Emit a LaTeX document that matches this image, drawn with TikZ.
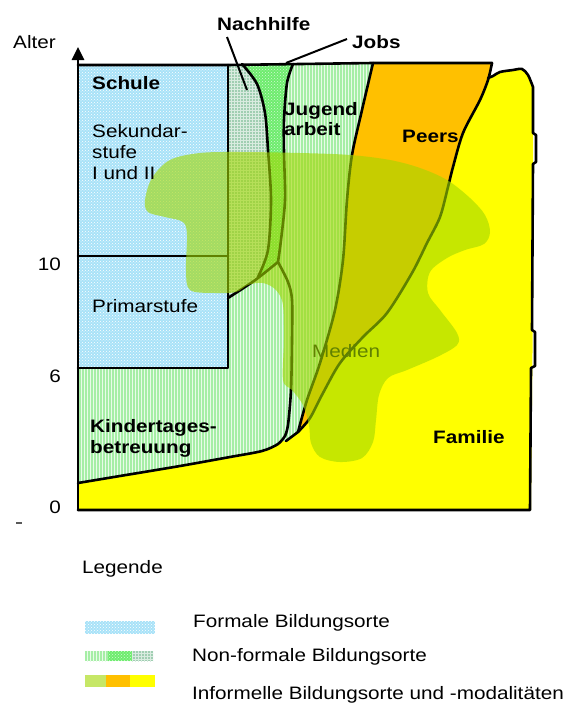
\documentclass[tikz,border=0pt]{standalone}
\usepackage{fontspec}
\setmainfont{Liberation Sans}[FakeStretch=1.15]
\usetikzlibrary{patterns,arrows.meta}
\definecolor{formblue}{RGB}{168,226,248}
\definecolor{kitag}{RGB}{166,238,166}
\definecolor{jobsg}{RGB}{110,236,110}
\definecolor{nachg}{RGB}{160,206,178}
\definecolor{peersc}{RGB}{255,192,0}
\definecolor{famc}{RGB}{255,255,0}
\definecolor{medc}{RGB}{160,215,0}
\begin{document}
\begin{tikzpicture}[x=1pt,y=-1pt,
  bd/.style={line width=2.6pt, line join=round, line cap=round},
  ptr/.style={line width=2pt},
  lbl/.style={inner sep=0pt, anchor=base west, font=\fontsize{18}{21}\selectfont},
  blbl/.style={inner sep=0pt, anchor=base west, font=\fontsize{18}{21}\selectfont\bfseries},
  tick/.style={inner sep=0pt, anchor=base east, font=\fontsize{18}{21}\selectfont},
  formal/.style={fill=formblue, postaction={pattern=crosshatch dots, pattern color=white}},
  kitafill/.style={fill=kitag, postaction={pattern=vertical lines, pattern color=white!75!kitag}},
  jobsfill/.style={fill=jobsg, postaction={pattern=crosshatch dots, pattern color=white!70!jobsg}},
  nachfill/.style={fill=nachg, postaction={pattern=grid, pattern color=white!60!nachg}},
  peersfill/.style={fill=peersc},
  famfill/.style={fill=famc},
  medfill/.style={fill=medc, fill opacity=0.6}
]
\useasboundingbox (0,0) rectangle (571,704);

% ---- fills ----
\fill[famfill] (78,510) -- (78,470) -- (286,440) -- (300,420) -- (400,200) -- (470,75) -- (488,78)
  -- plot[smooth] coordinates {(488,78)(493,76)(500,72)(513,70)(522,69)(528,75)(533,87)}
  -- (533,300) -- (531,510) -- cycle;
\fill[peersfill] (300,63)
  -- plot[smooth] coordinates {(492,63)(488,80)(480,100)(463,133)(453,167)(448,187)(440,217)(427,243)(412,273)(387,313)(363,337)(340,363)(323,393)(310,418)(298,432)}
  -- (286,441) -- cycle;
\fill[kitafill] (270,64)
  -- plot[smooth] coordinates {(373,63)(362,110)(352,155)(347,200)(343,260)(335,310)(320,363)(307,400)(298,432)}
  -- (286,441) -- (270,441) -- cycle;
\fill[jobsfill] (238,64)
  -- plot[smooth] coordinates {(293,64)(287,83)(284,120)(284,153)(285,200)(281,240)(278,262)}
  -- (262,292) -- (240,292) -- cycle;
\fill[nachfill] (228,64)
  -- plot[smooth] coordinates {(242,64)(257,84)(265,113)(268,150)(271,200)(268,250)(258,277)}
  -- (250,300) -- (228,300) -- cycle;
\fill[kitafill] (78,368) -- (228,368) -- (228,298)
  -- plot[smooth] coordinates {(228,298)(245,287)(258,278)(278,262)}
  -- plot[smooth] coordinates {(278,262)(288,282)(292,300)(292,340)(291,390)(288,425)(285,436)}
  -- plot[smooth] coordinates {(285,436)(278,444)(262,451)(230,457)(180,466)(120,476)(78,483)}
  -- cycle;
\fill[formal] (78,65) rectangle (228,368);

% ---- boundaries ----
\draw[bd] (78,65) -- (228,65) -- (373,63) -- (492,63);
\draw[bd] (228,65) -- (228,368) -- (78,368);
\draw[bd] (78,256) -- (228,256);
\draw[bd] plot[smooth] coordinates {(242,64)(257,84)(265,113)(268,150)(271,200)(268,250)(258,277)};
\draw[bd] plot[smooth] coordinates {(293,64)(287,83)(284,120)(284,153)(285,200)(281,240)(278,262)};
\draw[bd] plot[smooth] coordinates {(278,262)(288,282)(292,300)(292,340)(291,390)(288,425)(285,436)};
\draw[bd] plot[smooth] coordinates {(228,298)(245,287)(258,278)(278,262)};
\draw[bd] plot[smooth] coordinates {(285,436)(278,444)(262,451)(230,457)(180,466)(120,476)(78,483)};
\draw[bd] plot[smooth] coordinates {(373,63)(362,110)(352,155)(347,200)(343,260)(335,310)(320,363)(307,400)(298,432)};
\draw[bd] plot[smooth] coordinates {(492,63)(488,80)(480,100)(463,133)(453,167)(448,187)(440,217)(427,243)(412,273)(387,313)(363,337)(340,363)(323,393)(310,418)(298,432)};
\draw[bd] (298,432) -- (286,441);
\draw[bd] plot[smooth] coordinates {(488,78)(493,76)(500,72)(513,70)(522,69)(528,75)(533,87)}
  -- (533,133) -- (536,135) -- (536,162) -- (533,164) -- (532,330) -- (535,332) -- (535,366) -- (531,368) -- (530,510) -- (78,510);
\draw[bd, -{Triangle[length=13pt,width=12pt]}] (78,510) -- (78,47);

% ---- text under the media cloud ----
\node[lbl] (medien) at (312,357) {Medien};

% ---- media cloud ----
\fill[medfill] plot[smooth cycle, tension=0.55] coordinates {
 (200,153) (240,152) (300,153) (350,155) (390,160) (420,168) (447,180) (470,198) (485,215) (490,232)
 (484,244) (465,250) (447,258) (430,272) (428,293) (440,310) (457,333) (457,345) (437,357) (407,370)
 (388,378) (379,395) (376,420) (373,442) (362,458) (340,462) (320,457) (311,443) (309,425) (303,405)
 (292,390) (283,380) (284,340) (283,305) (276,290) (263,283) (248,285) (236,292) (215,293) (190,290)
 (186,270) (187,235) (183,222) (165,217) (148,212) (145,200) (152,178) (170,160)};

% ---- labels ----
\node[lbl] (alter) at (13,48) {Alter};
\node[blbl] (nachlbl) at (217,30) {Nachhilfe};
\node[blbl] (jobslbl) at (352,48) {Jobs};
\coordinate (nachA) at (227,37);
\coordinate (nachB) at (247,90);
\coordinate (jobsA) at (347,39);
\coordinate (jobsB) at (286,63);
\draw[ptr] (nachA) -- (nachB);
\draw[ptr] (jobsA) -- (jobsB);
\node[blbl] (schule) at (92,89) {Schule};
\node[lbl] (sek1) at (92,137) {Sekundar-};
\node[lbl] (sek2) at (92,158) {stufe};
\node[lbl] (sek3) at (92,179) {I und II};
\node[blbl] (jug1) at (284,115) {Jugend};
\node[blbl] (jug2) at (284,135) {arbeit};
\node[blbl] (peers) at (402,142) {Peers};
\node[lbl] (prim) at (92,312) {Primarstufe};
\node[blbl] (kita1) at (90,432) {Kindertages-};
\node[blbl] (kita2) at (90,453) {betreuung};
\node[blbl] (fam) at (433,443) {Familie};
\node[tick] (t10) at (61,270) {10};
\node[tick] (t6) at (61,382) {6};
\node[tick] (t0) at (61,513) {0};
\draw[line width=1.5pt, gray!70!black] (16,523) -- (22,523);

% ---- legend ----
\node[lbl] (leg) at (82,573) {Legende};
\fill[formal] (85,621) rectangle (155,634);
\node[lbl] (lf) at (193,627) {Formale Bildungsorte};
\fill[kitafill] (85,651) rectangle (108,661);
\fill[jobsfill] (108,651) rectangle (132,661);
\fill[nachfill] (132,651) rectangle (153,661);
\node[lbl] (ln) at (192,661) {Non-formale Bildungsorte};
\fill[medfill] (85,675) rectangle (106,687);
\fill[peersfill] (106,675) rectangle (130,687);
\fill[famfill] (130,675) rectangle (155,687);
\node[lbl] (li) at (192,699) {Informelle Bildungsorte und -modalitäten};
\end{tikzpicture}
\end{document}
